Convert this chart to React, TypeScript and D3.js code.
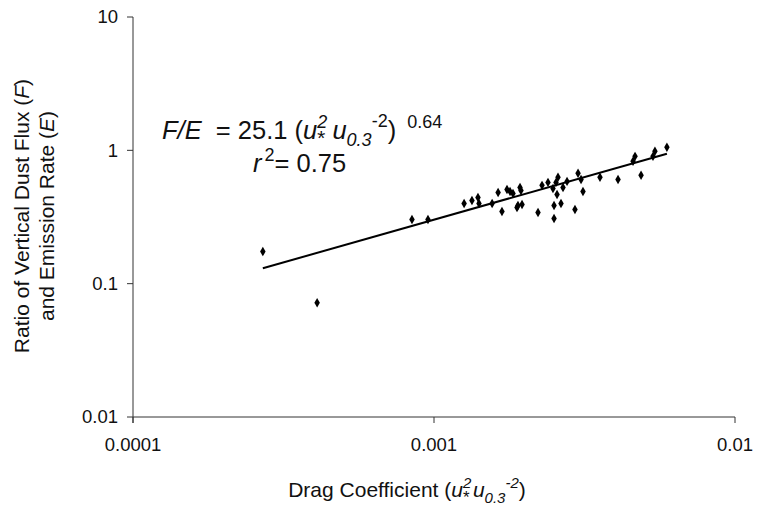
import React from "react";
import * as d3 from "d3";

// Drag coefficient (u*^2 u0.3^-2) vs. ratio of vertical dust flux to emission rate
const dragCoef = [
  2.70e-4, 4.09e-4, 8.45e-4, 9.55e-4, 1.259e-3, 1.337e-3, 1.40e-3, 1.411e-3, 1.56e-3,
  1.633e-3, 1.682e-3, 1.748e-3, 1.789e-3, 1.83e-3, 1.887e-3, 1.901e-3, 1.931e-3,
  1.945e-3, 1.961e-3, 2.216e-3, 2.285e-3, 2.392e-3, 2.485e-3, 2.505e-3, 2.505e-3,
  2.543e-3, 2.563e-3, 2.582e-3, 2.642e-3, 2.683e-3, 2.767e-3, 2.94e-3, 3.01e-3,
  3.08e-3, 3.126e-3, 3.56e-3, 4.087e-3, 4.584e-3, 4.655e-3, 4.874e-3, 5.34e-3,
  5.42e-3, 5.94e-3,
];
const fluxRatio = [
  0.174, 0.072, 0.303, 0.303, 0.40, 0.421, 0.443, 0.40, 0.40,
  0.483, 0.348, 0.509, 0.492, 0.475, 0.373, 0.386, 0.527,
  0.50, 0.393, 0.342, 0.546, 0.575, 0.518, 0.308, 0.386,
  0.575, 0.467, 0.627, 0.40, 0.527, 0.585, 0.36, 0.672,
  0.605, 0.492, 0.627, 0.605, 0.827, 0.901, 0.649, 0.901,
  0.983, 1.053,
];
const xTicks = [0.0001, 0.001, 0.01];
const xTickLabels = ["0.0001", "0.001", "0.01"];
const yTicks = [0.01, 0.1, 1, 10];
const yTickLabels = ["0.01", "0.1", "1", "10"];

// Power-law fit F/E = a * x^b
const fitCoef = 25.1;
const fitExp = 0.64;

const W = 761;
const H = 514;
const FONT = "Arial, 'Liberation Sans', sans-serif";

export default function App() {
  const x = d3.scaleLog().domain([0.0001, 0.01]).range([133, 735]);
  const y = d3.scaleLog().domain([0.01, 10]).range([417, 17]);

  const [xMin, xMax] = d3.extent(dragCoef) as [number, number];
  const fitX = [xMin, xMax];
  const line = d3
    .line<number>()
    .x((d) => x(d))
    .y((d) => y(fitCoef * Math.pow(d, fitExp)));

  const diamond = d3.symbol().type(d3.symbolDiamond).size(26)();
  const axisColor = "#333";
  const textColor = "#111";

  return (
    <svg
      width={W}
      height={H}
      style={{ position: "absolute", left: 0, top: 0, background: "#fff" }}
      fontFamily={FONT}
    >
      {/* axes */}
      <line x1={x(0.0001)} x2={x(0.01)} y1={y(0.01)} y2={y(0.01)} stroke={axisColor} strokeWidth={1} />
      <line x1={x(0.0001)} x2={x(0.0001)} y1={y(10)} y2={y(0.01) + 6} stroke={axisColor} strokeWidth={1} />
      {yTicks.map((t, i) => (
        <g key={"y" + i}>
          <line x1={x(0.0001) - 6} x2={x(0.0001)} y1={y(t)} y2={y(t)} stroke={axisColor} />
          <text x={x(0.0001) - 15} y={y(t)} dy="0.35em" textAnchor="end" fontSize={18.5} fill={textColor}>
            {yTickLabels[i]}
          </text>
        </g>
      ))}
      {xTicks.map((t, i) => (
        <g key={"x" + i}>
          <line x1={x(t)} x2={x(t)} y1={y(0.01)} y2={y(0.01) + 6} stroke={axisColor} />
          <text x={x(t)} y={y(0.01) + 34} textAnchor="middle" fontSize={18.5} fill={textColor}>
            {xTickLabels[i]}
          </text>
        </g>
      ))}

      {/* fitted line */}
      <path d={line(fitX) || ""} fill="none" stroke="#000" strokeWidth={2} />

      {/* observations */}
      {dragCoef.map((d, i) => (
        <path key={"p" + i} d={diamond || ""} transform={`translate(${x(d)},${y(fluxRatio[i])})`} fill="#000" />
      ))}

      {/* fit equation */}
      <text x={162} y={139} fontSize={25.5} fill={textColor}>
        <tspan fontStyle="italic">F/E</tspan>
        <tspan>{"\u00a0 = 25.1 ("}</tspan>
        <tspan fontStyle="italic">u</tspan>
        <tspan fontStyle="italic" fontSize={18} dy={-11}>2</tspan>
        <tspan fontStyle="italic" fontSize={21} dx={-11} dy={17}>*</tspan>
        <tspan fontStyle="italic" dx={8} dy={-6}>u</tspan>
        <tspan fontStyle="italic" fontSize={18} dy={7}>0.3</tspan>
        <tspan fontSize={18} dy={-19}>-2</tspan>
        <tspan dy={12}>)</tspan>
        <tspan fontSize={18} dx={11} dy={-11}>0.64</tspan>
      </text>
      <text x={253} y={172} fontSize={25.5} fill={textColor}>
        <tspan fontStyle="italic">r</tspan>
        <tspan fontSize={18} dx={3} dy={-11}>2</tspan>
        <tspan dy={11}>= 0.75</tspan>
      </text>

      {/* axis titles */}
      <text x={407} y={497} textAnchor="middle" fontSize={21} fill={textColor}>
        <tspan>Drag Coefficient (</tspan>
        <tspan fontStyle="italic">u</tspan>
        <tspan fontStyle="italic" fontSize={15} dy={-9}>2</tspan>
        <tspan fontStyle="italic" fontSize={17} dx={-9} dy={15}>*</tspan>
        <tspan fontStyle="italic" dx={4} dy={-6}>u</tspan>
        <tspan fontStyle="italic" fontSize={15} dy={6}>0.3</tspan>
        <tspan fontStyle="italic" fontSize={15} dy={-15}>-2</tspan>
        <tspan dy={9}>)</tspan>
      </text>
      <g transform="translate(0,216) rotate(-90)">
        <text x={0} y={29} textAnchor="middle" fontSize={21} fill={textColor}>
          <tspan>Ratio of Vertical Dust Flux (</tspan>
          <tspan fontStyle="italic">F</tspan>
          <tspan>)</tspan>
        </text>
        <text x={0} y={54} textAnchor="middle" fontSize={21} fill={textColor}>
          <tspan>and Emission Rate (</tspan>
          <tspan fontStyle="italic">E</tspan>
          <tspan>)</tspan>
        </text>
      </g>
    </svg>
  );
}
